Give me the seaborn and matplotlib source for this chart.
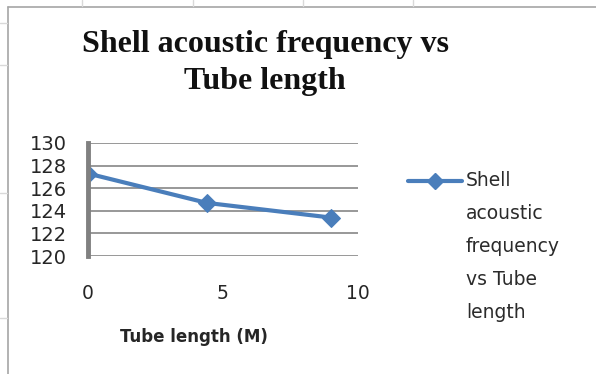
import matplotlib
matplotlib.use("Agg")
import matplotlib.pyplot as plt
from matplotlib.lines import Line2D
import seaborn as sns
import pandas as pd

# Shell acoustic frequency measured at three tube lengths
tube_length = [0, 4.4, 9]
frequency = [127.3, 124.7, 123.4]
y_ticks = [120, 122, 124, 126, 128, 130]
x_ticks = [0, 5, 10]
legend_label = "Shell\nacoustic\nfrequency\nvs Tube\nlength"
title = "Shell acoustic frequency vs\nTube length"
x_label = "Tube length (M)"

sns.set_theme(style="white")
plt.rcParams["font.family"] = ["DejaVu Sans"]

df = pd.DataFrame({"Tube length": tube_length, "Frequency": frequency})

W, H = 596, 374
fig = plt.figure(figsize=(W / 100, H / 100), dpi=100)
fig.patch.set_facecolor("white")

# plot area in pixel coordinates
left, right, top, bottom = 88, 358, 143, 256
ax = fig.add_axes([left / W, 1 - bottom / H, (right - left) / W, (bottom - top) / H])

line_color = "#4A7EBB"
sns.lineplot(data=df, x="Tube length", y="Frequency", ax=ax, color=line_color,
             linewidth=3, marker="D", markersize=9.5, markeredgecolor=line_color,
             legend=False)

ax.set_xlim(0, 10)
ax.set_ylim(120, 130)
ax.set_yticks(y_ticks)
ax.set_xticks(x_ticks)
ax.yaxis.grid(True, color="#868686", linewidth=1.2)
ax.set_axisbelow(True)
for side in ["top", "right", "bottom"]:
    ax.spines[side].set_visible(False)
ax.spines["left"].set_color("#808080")
ax.spines["left"].set_linewidth(3.5)
ax.tick_params(axis="y", length=0, pad=15, labelsize=14, labelcolor="#262626")
ax.tick_params(axis="x", length=0, pad=20, labelsize=13.5, labelcolor="#262626")
ax.set_ylabel("")
ax.set_xlabel(x_label, fontsize=12, fontweight="bold", color="#262626")
ax.xaxis.set_label_coords((194 - left) / (right - left), (bottom - 328) / (bottom - top))

# chart title
fig.text(265 / W, 1 - 63 / H, title, ha="center", va="center",
         family="Liberation Serif", fontweight="bold", fontsize=23,
         color="#111111", linespacing=1.38)

# legend entry: marker line plus wrapped series name
fig.add_artist(Line2D([408 / W, 462 / W], [1 - 181 / H, 1 - 181 / H],
                      color=line_color, linewidth=3, transform=fig.transFigure))
fig.add_artist(Line2D([435 / W], [1 - 181 / H], color=line_color, marker="D",
                      markersize=8, linestyle="none", transform=fig.transFigure))
fig.text(466 / W, 1 - 171 / H, legend_label, ha="left", va="top",
         fontsize=13.5, color="#2b2b2b", linespacing=1.93)

# chart area frame
frame = "#A6A6A6"
fig.add_artist(Line2D([8 / W, 8 / W], [0, 1 - 7 / H], color=frame, linewidth=1.2,
                      transform=fig.transFigure))
fig.add_artist(Line2D([8 / W, 1], [1 - 7 / H, 1 - 7 / H], color=frame, linewidth=1.2,
                      transform=fig.transFigure))

# faint worksheet cell borders around the chart
cell = "#D9D9D9"
for yy in [23, 65, 193, 318]:
    fig.add_artist(Line2D([0, 7 / W], [1 - yy / H, 1 - yy / H], color=cell,
                          linewidth=1, transform=fig.transFigure))
for xx in [82, 193, 303, 413]:
    fig.add_artist(Line2D([xx / W, xx / W], [1 - 6 / H, 1], color=cell,
                          linewidth=1, transform=fig.transFigure))

fig.savefig("out.png", dpi=100, facecolor="white")
